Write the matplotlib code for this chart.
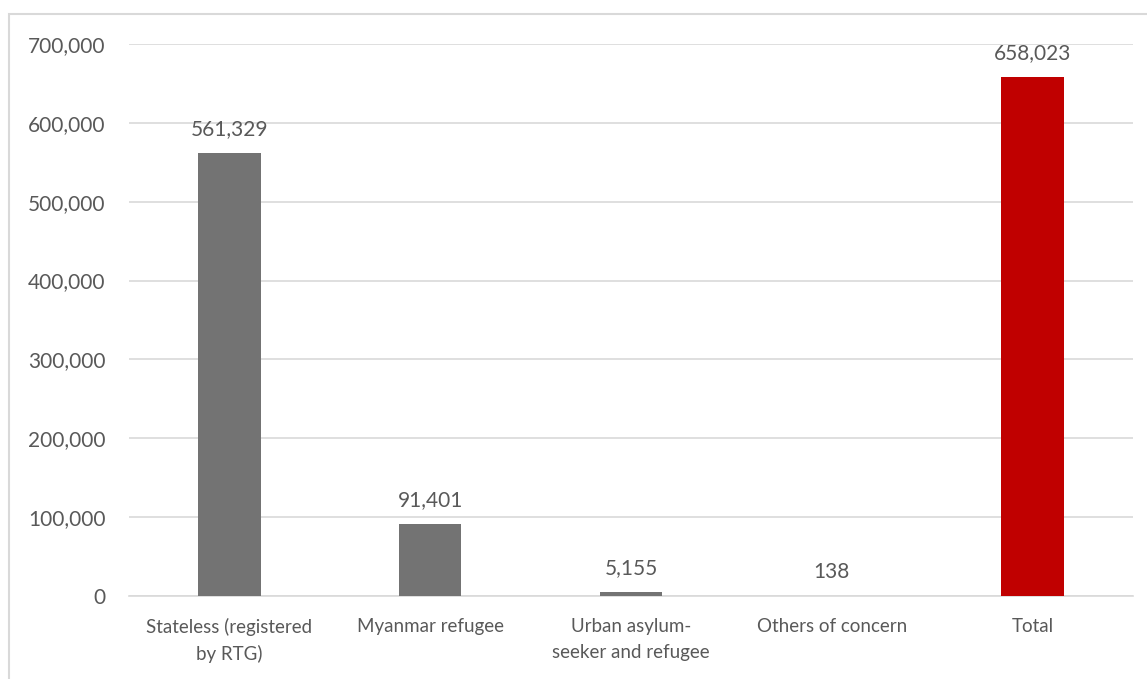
import matplotlib.pyplot as plt
from matplotlib.patches import Rectangle

# data
categories = ["Stateless (registered\nby RTG)", "Myanmar refugee",
              "Urban asylum-\nseeker and refugee", "Others of concern", "Total"]
values = [561329, 91401, 5155, 138, 658023]
colors = ["#737373", "#737373", "#737373", "#737373", "#c00000"]
yticks = [0, 100000, 200000, 300000, 400000, 500000, 600000, 700000]

plt.rcParams['font.family'] = ['Lato', 'DejaVu Sans']
txt = "#595959"

W, H = 1147, 679
fig = plt.figure(figsize=(W / 100, H / 100), dpi=100)
ax = fig.add_axes([129 / W, 1 - 596 / H, (1133 - 129) / W, (596 - 44) / H])

# outer chart border (light gray)
fig.patches.append(Rectangle((9 / W, -0.05), 1.1, 1 - 14 / H + 0.05,
                             transform=fig.transFigure, fill=False,
                             edgecolor="#d9d9d9", linewidth=1.5))

x = range(len(values))
ax.bar(x, values, width=0.31, color=colors, zorder=3)

for i, v in enumerate(values):
    ax.annotate(f"{v:,}", (i, v), xytext=(0, 10), textcoords="offset points",
                ha="center", va="bottom", fontsize=15, color=txt)

ax.set_ylim(0, 700000)
ax.set_xlim(-0.5, len(values) - 0.5)
ax.set_yticks(yticks)
ax.set_yticklabels([f"{t:,}" for t in yticks], fontsize=15)
ax.set_xticks(list(x))
ax.set_xticklabels(categories, fontsize=13.5, linespacing=1.6)
ax.tick_params(axis="both", length=0, labelcolor=txt)
ax.tick_params(axis="y", pad=17)
ax.tick_params(axis="x", pad=16)
ax.grid(axis="y", color="#d9d9d9", linewidth=1.2, zorder=0)
for s in ["top", "right", "left"]:
    ax.spines[s].set_visible(False)
ax.spines["bottom"].set_color("#d9d9d9")
ax.spines["bottom"].set_linewidth(1.2)

fig.savefig("out.png", dpi=100)
